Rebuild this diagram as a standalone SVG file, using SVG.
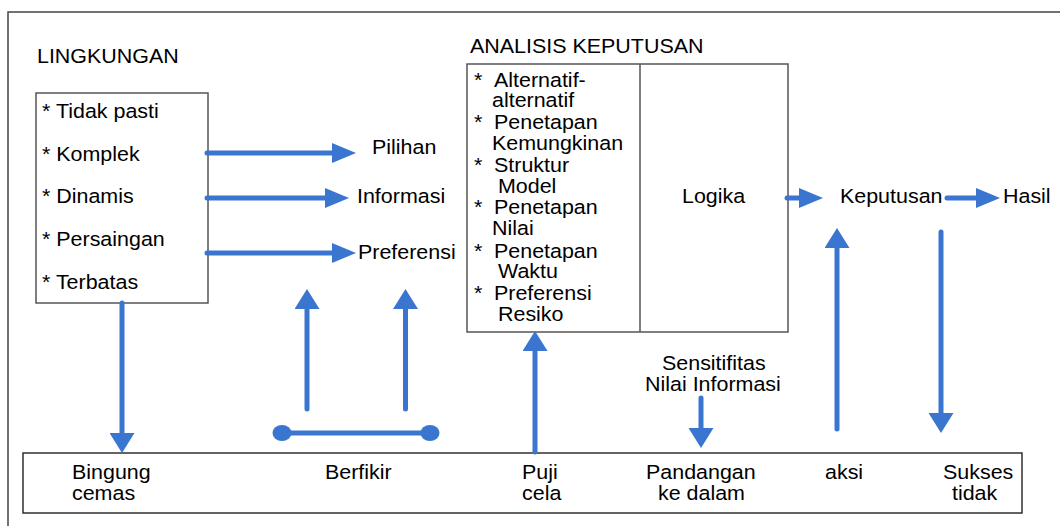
<svg xmlns="http://www.w3.org/2000/svg" width="1060" height="526" viewBox="0 0 1060 526">
  <style>
    text {
      font-family: "Liberation Sans", Arial, sans-serif;
      font-size: 19.5px;
      fill: #000;
      transform-box: fill-box;
      transform-origin: 0 0;
      transform: scaleX(1.1);
    }
    .box { fill: #fff; stroke: #555; stroke-width: 1.5; }
    .box-dark { fill: #fff; stroke: #222; stroke-width: 1.4; }
    .frame { fill: none; stroke: #444; stroke-width: 1.5; }
    .link { fill: none; stroke: #3a76d0; stroke-width: 5; stroke-linecap: round; }
    .h { marker-end: url(#ah-h); }
    .v { marker-end: url(#ah-v); }
    .dot { fill: #3a76d0; }
  </style>
  <defs>
    <marker id="ah-h" markerUnits="userSpaceOnUse" viewBox="0 0 24 20" markerWidth="24" markerHeight="20" refX="0" refY="10" orient="auto">
      <path d="M0,0 L24,10 L0,20 z" fill="#3a76d0"/>
    </marker>
    <marker id="ah-v" markerUnits="userSpaceOnUse" viewBox="0 0 20 25" markerWidth="20" markerHeight="25" refX="0" refY="12.5" orient="auto">
      <path d="M0,0 L20,12.5 L0,25 z" fill="#3a76d0"/>
    </marker>
  </defs>

  <rect width="1060" height="526" fill="#fff"/>
  <!-- outer frame, running past the right and bottom edges -->
  <rect class="frame" x="8" y="12" width="1100" height="560"/>

  <!-- environment box -->
  <g id="lingkungan">
    <text x="37" y="63">LINGKUNGAN</text>
    <rect class="box" x="36" y="93" width="172" height="210"/>
    <text x="42" y="118.5">* Tidak pasti</text>
    <text x="42" y="161">* Komplek</text>
    <text x="42" y="203.5">* Dinamis</text>
    <text x="42" y="246">* Persaingan</text>
    <text x="42" y="289">* Terbatas</text>
  </g>

  <g id="pilihan"><text x="372" y="154">Pilihan</text></g>
  <g id="informasi"><text x="357" y="203">Informasi</text></g>
  <g id="preferensi"><text x="358" y="259">Preferensi</text></g>

  <!-- decision analysis box -->
  <g id="analisis">
    <text x="470" y="53">ANALISIS KEPUTUSAN</text>
    <rect class="box" x="467" y="64" width="321" height="268"/>
    <line x1="640" y1="64" x2="640" y2="332" stroke="#555" stroke-width="1.5"/>
    <text x="474" y="86.7">*</text><text x="494" y="86.7">Alternatif-</text>
    <text x="492" y="107">alternatif</text>
    <text x="474" y="129">*</text><text x="494" y="129">Penetapan</text>
    <text x="492" y="150">Kemungkinan</text>
    <text x="474" y="171.7">*</text><text x="494" y="171.7">Struktur</text>
    <text x="498" y="193">Model</text>
    <text x="474" y="214">*</text><text x="494" y="214">Penetapan</text>
    <text x="492" y="235">Nilai</text>
    <text x="474" y="257.7">*</text><text x="494" y="257.7">Penetapan</text>
    <text x="498" y="278">Waktu</text>
    <text x="474" y="300">*</text><text x="494" y="300">Preferensi</text>
    <text x="498" y="321">Resiko</text>
    <text x="682" y="203">Logika</text>
  </g>

  <g id="keputusan"><text x="840" y="203">Keputusan</text></g>
  <g id="hasil"><text x="1003" y="203">Hasil</text></g>

  <g id="sensitifitas">
    <text x="662" y="370">Sensitifitas</text>
    <text x="645" y="391">Nilai Informasi</text>
  </g>

  <!-- bottom strip of reactions -->
  <g id="reaksi">
    <rect class="box-dark" x="23" y="453" width="999" height="60"/>
    <text x="72" y="479">Bingung</text>
    <text x="72" y="500">cemas</text>
    <text x="325" y="479">Berfikir</text>
    <text x="522" y="479">Puji</text>
    <text x="522" y="500">cela</text>
    <text x="646" y="479">Pandangan</text>
    <text x="658" y="500">ke dalam</text>
    <text x="825" y="479">aksi</text>
    <text x="943" y="479">Sukses</text>
    <text x="952" y="500">tidak</text>
  </g>

  <!-- connectors -->
  <g id="connectors">
    <line class="link h" x1="207" y1="153" x2="332" y2="153"/>
    <line class="link h" x1="207" y1="198" x2="325" y2="198"/>
    <line class="link h" x1="207" y1="253" x2="332" y2="253"/>
    <line class="link h" x1="787" y1="198" x2="799" y2="198"/>
    <line class="link h" x1="947" y1="198" x2="976" y2="198"/>

    <line class="link v" x1="122" y1="303" x2="122" y2="433"/>
    <line class="link v" x1="307" y1="409" x2="307" y2="309"/>
    <line class="link v" x1="405.5" y1="409" x2="405.5" y2="309"/>
    <line class="link v" x1="535" y1="452" x2="535" y2="351"/>
    <line class="link v" x1="701" y1="398" x2="701" y2="428"/>
    <line class="link v" x1="837" y1="429" x2="837" y2="248"/>
    <line class="link v" x1="941" y1="232" x2="941" y2="413"/>

    <line class="link" x1="282" y1="433" x2="430" y2="433"/>
    <ellipse class="dot" cx="282" cy="433" rx="9.5" ry="8"/>
    <ellipse class="dot" cx="430" cy="433" rx="9.5" ry="8"/>
  </g>
</svg>
